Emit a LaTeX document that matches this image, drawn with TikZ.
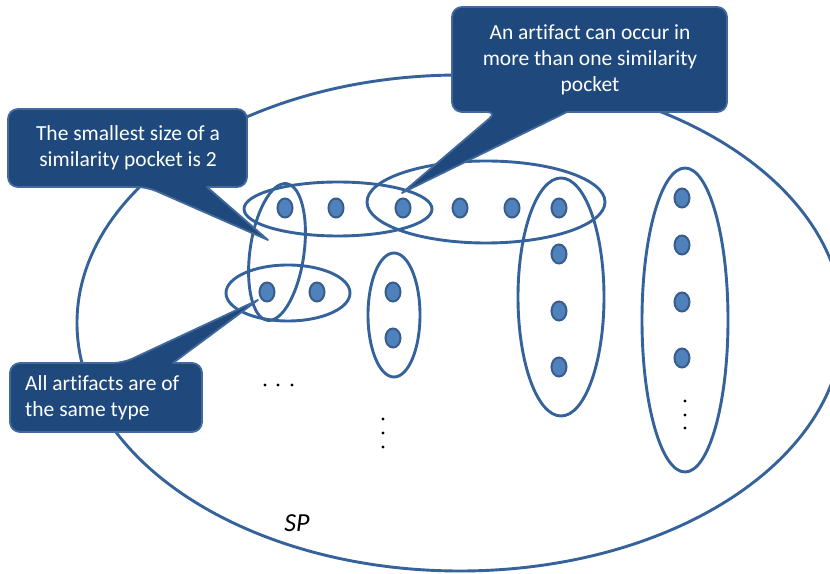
\documentclass[tikz,border=0pt]{standalone}
\usepackage{fontspec}
\setmainfont[Ligatures=CommonOff]{Carlito}
\definecolor{ringblue}{HTML}{35629A}
\definecolor{dotfill}{HTML}{4F81BD}
\definecolor{dotline}{HTML}{385D8A}
\definecolor{notefill}{HTML}{1F497D}
\definecolor{noteline}{HTML}{41699C}
\tikzset{
  ring/.style={draw=ringblue, line width=2.9pt},
  artifact/.style={ellipse, draw=dotline, fill=dotfill, line width=2pt,
    minimum width=15pt, minimum height=19pt, inner sep=0pt},
  tinydot/.style={circle, fill=black, inner sep=0pt, minimum size=3.4pt},
  note/.style={fill=notefill, draw=noteline, line width=1.8pt, line join=round},
  notetext/.style={text=white, font=\fontsize{21.5}{26}\selectfont, inner sep=0pt},
}
\usetikzlibrary{shapes.geometric}
\begin{document}
\begin{tikzpicture}[x=1pt,y=1pt]
\useasboundingbox (0,0) rectangle (830,573);

% the set SP
\draw[ring] (460,250) ellipse [x radius=383, y radius=248];
\node[font=\fontsize{26}{30}\selectfont\itshape, inner sep=0pt] (sp) at (297,50) {SP};

% similarity pockets
\draw[ring] (338,364) ellipse [x radius=94, y radius=27];
\draw[ring] (486,371) ellipse [x radius=119, y radius=41];
\draw[ring, rotate around={-8:(277,321)}] (277,321) ellipse [x radius=27, y radius=69];
\draw[ring] (288,280) ellipse [x radius=62, y radius=28];
\draw[ring] (394,258) ellipse [x radius=26, y radius=62];
\draw[ring] (561,276) ellipse [x radius=43, y radius=119];
\draw[ring] (685,253) ellipse [x radius=43, y radius=152];

% artifacts
\node[artifact] (a1) at (285,365) {};
\node[artifact] (a2) at (336,365) {};
\node[artifact] (a3) at (403,365) {};
\node[artifact] (a4) at (460,365) {};
\node[artifact] (a5) at (512,365) {};
\node[artifact] (a6) at (559,365) {};
\node[artifact] (b1) at (559,319) {};
\node[artifact] (b2) at (559,262) {};
\node[artifact] (b3) at (559,206) {};
\node[artifact] (c1) at (682,375) {};
\node[artifact] (c2) at (682,328) {};
\node[artifact] (c3) at (682,271) {};
\node[artifact] (c4) at (682,215) {};
\node[artifact] (d1) at (267,281) {};
\node[artifact] (d2) at (317,281) {};
\node[artifact] (e1) at (393,281) {};
\node[artifact] (e2) at (393,235) {};

% continuation marks
\foreach \n/\x/\y in {h1/265/188, h2/278/188, h3/292/188,
                      v1/383/154, v2/383/140, v3/383/126,
                      w1/685/172, w2/685/158, w3/685/145}
  \node[tinydot] (\n) at (\x,\y) {};

% callout pointer tips
\coordinate (tipA) at (268,333);
\coordinate (tipB) at (402,380);
\coordinate (tipC) at (258,273);

% callout: smallest size
\draw[note] (8,425) [rounded corners=10pt] -- (8,386) -- (147,386) [sharp corners]
  -- (tipA) -- (207,386) [rounded corners=10pt] -- (247,386) -- (247,464) -- (8,464) -- cycle;
\node[notetext, align=center] (noteA) at (128,425)
  {The smallest size of a\\similarity pocket is 2};

% callout: shared artifact
\draw[note] (452,510) [rounded corners=10pt] -- (452,461) -- (497,461) [sharp corners]
  -- (tipB) -- (567,461) [rounded corners=10pt] -- (727,461) -- (727,566) -- (452,566) -- cycle;
\node[notetext, align=center] (noteB) at (590,513)
  {An artifact can occur in\\more than one similarity\\pocket};

% callout: same type
\draw[note] (10,175) [rounded corners=10pt] -- (10,210) -- (123,210) [sharp corners]
  -- (tipC) -- (173,210) [rounded corners=10pt] -- (202,210) -- (202,141) -- (10,141) -- cycle;
\node[notetext, align=left, anchor=west] (noteC) at (25,175)
  {All artifacts are of\\the same type};
\end{tikzpicture}
\end{document}
